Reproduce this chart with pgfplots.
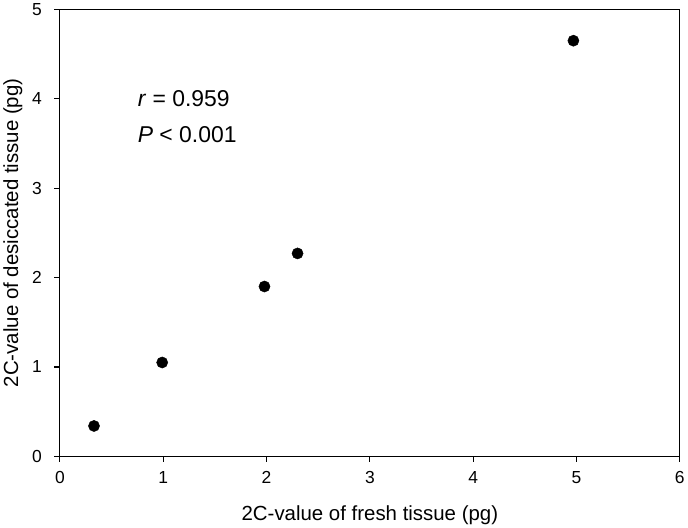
\documentclass[border=0pt]{standalone}
\usepackage{pgfplots}
\pgfplotsset{compat=1.18}
\usepackage{fontspec}
\setmainfont{Liberation Sans}

\begin{document}
\begin{tikzpicture}
\begin{axis}[
    scale only axis,
    width=620bp, height=447bp,
    xmin=0, xmax=6, ymin=0, ymax=5,
    xtick={0,1,2,3,4,5,6}, ytick={0,1,2,3,4,5},
    xticklabels={0,1,2,3,4,5,6},
    yticklabels={0,1,2,3,4,5},
    axis line style={line width=1.1pt},
    tick style={line width=1.1pt, black},
    tick align=outside,
    major tick length=5.5bp,
    xtick pos=bottom, ytick pos=left,
    tick label style={font=\fontsize{17.5}{20}\selectfont},
    xticklabel style={yshift=-6bp},
    yticklabel style={xshift=-9bp},
    label style={font=\fontsize{20.5}{24}\selectfont},
    xlabel={2C-value of fresh tissue (pg)},
    ylabel={2C-value of desiccated tissue (pg)},
    xlabel style={yshift=-15bp},
    ylabel style={yshift=3bp},
]
\addplot[only marks, mark=*, mark size=5.6bp, black] coordinates {
    (0.33,0.34)
    (0.99,1.05)
    (1.98,1.90)
    (2.30,2.27)
    (4.97,4.65)
};
\node[anchor=base west, font=\fontsize{23}{27}\selectfont] at (axis cs:0.72,3.91) {\textit{r} = 0.959};
\node[anchor=base west, font=\fontsize{23}{27}\selectfont] at (axis cs:0.72,3.51) {\textit{P} < 0.001};
\end{axis}
\end{tikzpicture}
\end{document}
